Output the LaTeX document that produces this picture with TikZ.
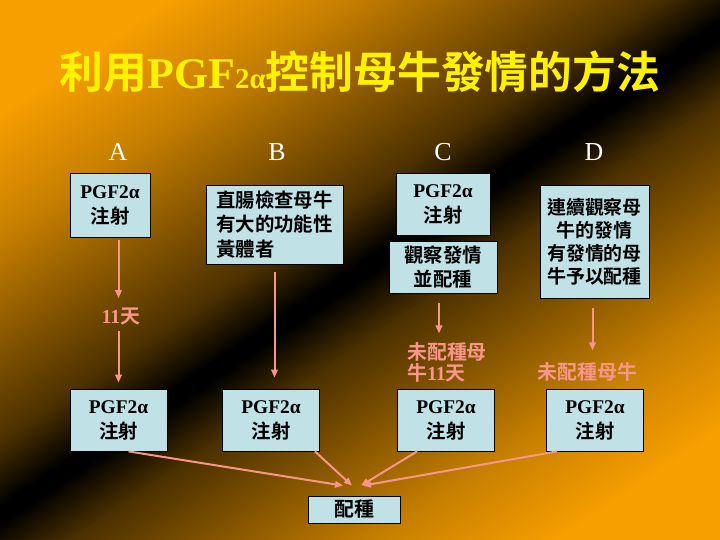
\documentclass[tikz,border=0pt]{standalone}
\usepackage{fontspec}
\setmainfont{Liberation Serif}
\newfontfamily\cjk{Noto Sans CJK TC}[BoldFont={Noto Sans CJK TC Bold}]
\usetikzlibrary{arrows.meta,positioning,calc}
\definecolor{orng}{RGB}{247,158,0}
\definecolor{boxblue}{RGB}{192,226,230}
\definecolor{pinkline}{RGB}{248,150,140}
\newcommand{\zh}[1]{{\cjk\bfseries #1}}
\newcommand{\injname}{\textbf{PGF2α}}
\tikzset{
	infobox/.style={draw=black, fill=boxblue, line width=0.8bp, align=center,
		inner sep=2bp, font=\fontsize{19.5}{25}\selectfont},
	pinknote/.style={text=pinkline, inner sep=0pt, align=left,
		font=\fontsize{20}{21}\selectfont},
	colhead/.style={text=white, font=\fontsize{26}{26}\selectfont},
	arrow/.style={-{Triangle[length=8bp,width=6.5bp]}, draw=pinkline, line width=2bp}
}

\begin{document}
\begin{tikzpicture}[x=1bp, y=-1bp]
	\useasboundingbox (0,0) rectangle (720,540);
	
	%% -- Background: orange corners, dark diagonal band
	\begin{scope}
		\clip (0,0) rectangle (720,540);
		\fill[orng] (0,0) rectangle (720,540);
		\begin{scope}[transform canvas={rotate around={34:(360,272)}}]
			\shade[top color=orng, bottom color=orng!80!black] (-400,-60) rectangle (1120,43);
			\shade[top color=orng!80!black, bottom color=orng!30!black] (-400,42) rectangle (1120,213);
			\shade[top color=orng!30!black, bottom color=black] (-400,212) rectangle (1120,265);
			\fill[black] (-400,264) rectangle (1120,280);
			\shade[top color=black, bottom color=orng!30!black] (-400,279) rectangle (1120,332);
			\shade[top color=orng!30!black, bottom color=orng!80!black] (-400,331) rectangle (1120,502);
			\shade[top color=orng!80!black, bottom color=orng] (-400,501) rectangle (1120,604);
		\end{scope}
	\end{scope}
	
	%% -- Title
	\node[text=yellow, font=\fontsize{44}{44}\selectfont] (title) at (360,72)
	{\zh{利用}\textbf{PGF{\fontsize{29}{29}\selectfont 2α}}\zh{控制母牛發情的方法}};
	
	%% -- Column heads
	\node[colhead] (hA) at (118,152) {A};
	\node[colhead] (hB) at (277,152) {B};
	\node[colhead] (hC) at (443,152) {C};
	\node[colhead] (hD) at (594,152) {D};
	
	%% -- Top row
	\node[infobox, minimum width=80bp, minimum height=64bp] (tA) at (110,205)
	{\injname\\\zh{注射}};
	\node[infobox, minimum width=137bp, minimum height=79bp, align=left] (tB) at (274.5,224.5)
	{\zh{直腸檢查母牛}\\\zh{有大的功能性}\\\zh{黃體者}};
	\node[infobox, minimum width=94bp, minimum height=62bp] (tC1) at (443,204)
	{\injname\\\zh{注射}};
	\node[infobox, minimum width=108bp, minimum height=52bp] (tC2) at (443,267)
	{\zh{觀察發情}\\\zh{並配種}};
	\node[infobox, minimum width=109bp, minimum height=113bp,
	font=\fontsize{19}{23}\selectfont] (tD) at (594.5,241.5)
	{\zh{連續觀察母}\\\zh{牛的發情}\\\zh{有發情的母}\\\zh{牛予以配種}};
	
	%% -- Pink notes
	\node[pinknote] (d11) at (121,317) {\textbf{11}\zh{天}};
	\node[pinknote] (nC) at (447,362.5) {\zh{未配種母}\\\zh{牛}\textbf{11}\zh{天}};
	\node[pinknote] (nD) at (587.5,372) {\zh{未配種母牛}};
	
	%% -- Bottom row
	\node[infobox, minimum width=97bp, minimum height=62bp] (bA) at (118.5,420)
	{\injname\\\zh{注射}};
	\node[infobox, minimum width=97bp, minimum height=62bp] (bB) at (271,420)
	{\injname\\\zh{注射}};
	\node[infobox, minimum width=97bp, minimum height=62bp] (bC) at (446,420)
	{\injname\\\zh{注射}};
	\node[infobox, minimum width=97bp, minimum height=62bp] (bD) at (595,420)
	{\injname\\\zh{注射}};
	
	\node[infobox, minimum width=92bp, minimum height=27bp, inner sep=0pt,
	font=\fontsize{20}{20}\selectfont] (pz) at (354,509.5) {\zh{配種}};
	
	%% -- Down arrows
	\draw[arrow, shorten <=3bp, shorten >=10bp] (tA.south -| bA.north) -- (d11.north -| bA.north);
	\draw[arrow, shorten <=5bp, shorten >=6bp] (d11.south -| bA.north) -- (bA.north);
	\draw[arrow, shorten <=8bp, shorten >=11bp] (tB.south) -- (tB.south |- bB.north);
	\draw[arrow, shorten <=10bp, shorten >=9bp] ([xshift=-4bp]tC2.south) -- ([xshift=-4bp]tC2.south |- nC.north);
	\draw[arrow, shorten <=10bp, shorten >=12bp] ([xshift=-2bp]tD.south) -- ([xshift=-2bp]tD.south |- nD.north);
	
	%% -- Converging arrows to breeding
	\draw[arrow] ([xshift=10bp]bA.south) -- ([shift={(-11,-10)}]pz.north);
	\draw[arrow] ([xshift=-5bp]bB.south east) -- ([shift={(-2,-10)}]pz.north);
	\draw[arrow] ([xshift=20bp]bC.south west) -- ([shift={(7,-10)}]pz.north);
	\draw[arrow] ([xshift=11bp]bD.south west) -- ([shift={(9,-10)}]pz.north);
	
\end{tikzpicture}
\end{document}
